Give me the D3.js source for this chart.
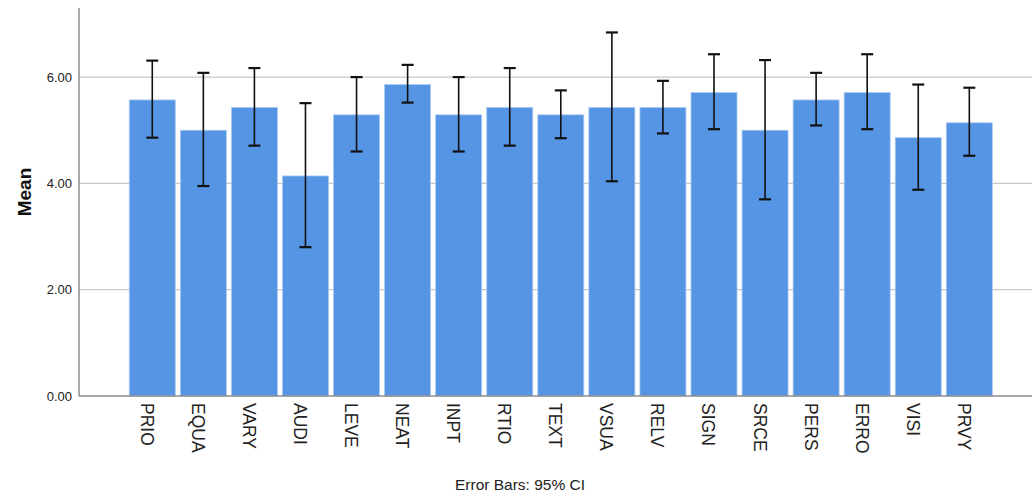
<!DOCTYPE html>
<html>
<head>
<meta charset="utf-8">
<script src="https://cdn.jsdelivr.net/npm/d3@7"></script>
<style>
  html, body { margin: 0; padding: 0; background: #fff; }
  svg { display: block; font-family: Arial, "Liberation Sans", sans-serif; }
</style>
</head>
<body>
<svg id="chart" width="1032" height="495"></svg>
<script>
const categories = ["PRIO","EQUA","VARY","AUDI","LEVE","NEAT","INPT","RTIO","TEXT","VSUA","RELV","SIGN","SRCE","PERS","ERRO","VISI","PRVY"];
const means      = [5.57, 5.00, 5.43, 4.14, 5.29, 5.86, 5.29, 5.43, 5.29, 5.43, 5.43, 5.71, 5.00, 5.57, 5.71, 4.86, 5.14];
const ciUpper    = [6.31, 6.08, 6.17, 5.51, 6.00, 6.23, 6.00, 6.17, 5.75, 6.84, 5.93, 6.43, 6.32, 6.08, 6.43, 5.86, 5.80];
const ciLower    = [4.86, 3.95, 4.71, 2.80, 4.60, 5.52, 4.60, 4.71, 4.85, 4.04, 4.94, 5.02, 3.70, 5.09, 5.02, 3.88, 4.52];
const yTicks     = [0, 2, 4, 6];
const yLabel     = "Mean";
const caption    = "Error Bars: 95% CI";

const data = categories.map((c, i) => ({ cat: c, mean: means[i], hi: ciUpper[i], lo: ciLower[i] }));

const svg = d3.select("#chart");
const axisX = 79, baseY = 396, topY = 8, rightX = 1032;

const y = d3.scaleLinear().domain([0, 7.3]).range([baseY, topY]);
const x = d3.scaleBand().domain(categories).range([126.75, 994.85]).paddingInner(0.099).paddingOuter(0.0495);

// gridlines
svg.append("g").selectAll("line").data(yTicks.filter(d => d > 0)).join("line")
  .attr("x1", axisX).attr("x2", rightX)
  .attr("y1", d => y(d)).attr("y2", d => y(d))
  .attr("stroke", "#c8c8c8").attr("stroke-width", 1.2);

// bars
svg.append("g").selectAll("rect").data(data).join("rect")
  .attr("x", d => x(d.cat)).attr("width", x.bandwidth())
  .attr("y", d => y(d.mean)).attr("height", d => baseY - y(d.mean))
  .attr("fill", "#5695e3").attr("stroke", "#a9c9f1").attr("stroke-width", 0.8);

// error bars
const eb = svg.append("g").attr("stroke", "#111").attr("stroke-width", 1.6);
const cap = 6;
data.forEach(d => {
  const cx = x(d.cat) + x.bandwidth() / 2;
  eb.append("line").attr("x1", cx).attr("x2", cx).attr("y1", y(d.hi)).attr("y2", y(d.lo));
  eb.append("line").attr("x1", cx - cap).attr("x2", cx + cap).attr("y1", y(d.hi)).attr("y2", y(d.hi)).attr("stroke-width", 2.2);
  eb.append("line").attr("x1", cx - cap).attr("x2", cx + cap).attr("y1", y(d.lo)).attr("y2", y(d.lo)).attr("stroke-width", 2.2);
});

// axes lines
svg.append("line").attr("x1", axisX).attr("x2", axisX).attr("y1", topY).attr("y2", baseY)
  .attr("stroke", "#8c8c8c").attr("stroke-width", 1.5);
svg.append("line").attr("x1", axisX).attr("x2", rightX).attr("y1", baseY).attr("y2", baseY)
  .attr("stroke", "#8c8c8c").attr("stroke-width", 1.5);

// y axis via d3 axis (labels only)
const yAxis = d3.axisLeft(y).tickValues(yTicks).tickFormat(d3.format(".2f")).tickSize(0).tickPadding(7);
const ya = svg.append("g").attr("transform", `translate(${axisX},0)`).call(yAxis);
ya.select(".domain").remove();
ya.selectAll("text").attr("font-size", 13).attr("fill", "#222").attr("font-family", "Arial, 'Liberation Sans', sans-serif");

// x labels rotated
const xAxis = d3.axisBottom(x).tickSize(0).tickPadding(0);
const xa = svg.append("g").attr("transform", `translate(0,${baseY})`).call(xAxis);
xa.select(".domain").remove();
xa.selectAll("text")
  .attr("font-size", 17.5).attr("fill", "#222").attr("font-family", "Arial, 'Liberation Sans', sans-serif")
  .attr("text-anchor", "start").attr("dy", null).attr("y", 0)
  .attr("transform", "translate(-11.5,7) rotate(90)");

// y label
svg.append("text").attr("transform", "translate(31,192) rotate(-90)")
  .attr("text-anchor", "middle").attr("font-size", 19).attr("font-weight", "bold").attr("fill", "#111")
  .text(yLabel);

// caption
svg.append("text").attr("x", 520).attr("y", 490).attr("text-anchor", "middle")
  .attr("font-size", 15.5).attr("fill", "#222").text(caption);
</script>
</body>
</html>
